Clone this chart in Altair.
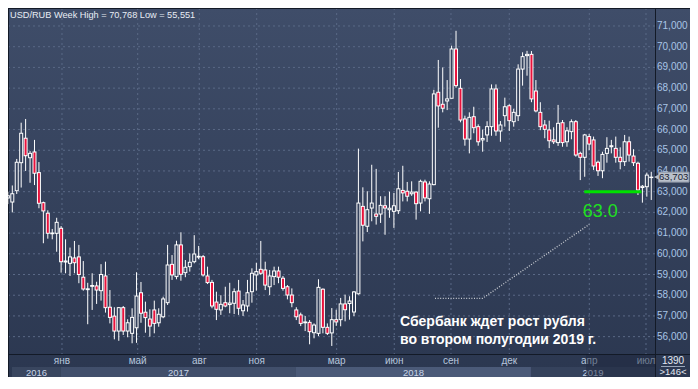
import altair as alt
import pandas as pd

# ---------------- data ----------------
opens = [62.70, 62.50, 63.05, 64.40, 65.58, 64.64, 64.92, 63.92, 62.47, 61.96,
         60.97, 60.99, 61.23, 59.60, 59.54, 59.80, 59.85, 58.87, 58.27, 58.43,
         58.45, 58.22, 58.93, 57.42, 56.99, 56.27, 57.40, 56.27, 56.16, 56.43,
         58.12, 57.18, 56.85, 57.29, 56.67, 56.96, 57.64, 59.49, 58.90, 60.43,
         59.09, 59.38, 59.62, 59.84, 59.86, 58.93, 58.62, 57.67, 57.29, 57.64,
         57.55, 57.61, 58.20, 57.25, 57.48, 58.17, 58.98, 59.25, 59.22, 58.41,
         58.90, 59.17, 58.82, 58.41, 58.01, 57.29, 57.05, 56.67, 56.69, 56.19,
         56.16, 58.29, 56.45, 56.18, 56.82, 56.82, 57.58, 57.60, 57.19, 58.07,
         62.29, 61.33, 62.21, 61.92, 61.92, 62.32, 62.13, 62.05, 62.08, 63.06,
         63.02, 62.90, 62.98, 62.45, 63.47, 62.66, 63.34, 67.80, 67.22, 67.38,
         67.51, 69.89, 67.99, 66.51, 65.54, 66.62, 66.14, 65.50, 65.74, 66.14,
         67.96, 65.93, 66.67, 67.15, 66.38, 66.67, 68.92, 69.57, 69.63, 67.86,
         66.83, 66.22, 65.98, 65.50, 65.37, 66.33, 65.41, 65.90, 66.38, 64.85,
         64.66, 65.66, 65.50, 64.42, 64.01, 64.85, 65.17, 65.09, 64.66, 64.45,
         65.41, 64.72, 64.37, 63.20, 63.24, 63.68]
highs = [63.00, 63.30, 64.58, 66.33, 66.51, 64.96, 65.50, 64.43, 62.52, 62.10,
         61.20, 61.74, 61.34, 60.70, 60.30, 60.62, 60.43, 59.65, 58.60, 59.06,
         58.65, 59.50, 59.62, 58.25, 57.42, 57.42, 57.48, 56.84, 57.37, 59.11,
         58.64, 57.69, 57.32, 57.74, 57.37, 57.93, 60.43, 59.94, 60.63, 61.04,
         59.70, 60.02, 60.90, 60.38, 59.94, 59.38, 58.74, 58.17, 58.00, 58.41,
         58.60, 58.33, 58.74, 57.77, 58.74, 59.30, 59.57, 60.62, 59.62, 59.22,
         59.38, 59.38, 58.93, 58.49, 58.33, 57.42, 57.16, 57.00, 56.80, 56.64,
         58.77, 58.33, 56.64, 57.38, 57.30, 57.87, 58.03, 57.95, 58.20, 65.08,
         63.21, 63.02, 64.30, 64.10, 62.78, 62.78, 63.00, 62.94, 63.95, 64.25,
         63.47, 63.50, 63.02, 63.58, 63.58, 63.50, 67.92, 69.36, 69.00, 68.39,
         70.05, 70.768, 68.44, 66.67, 66.83, 67.10, 66.25, 66.00, 66.40, 68.18,
         68.18, 66.41, 67.54, 67.22, 67.00, 69.15, 69.73, 69.80, 69.79, 68.39,
         67.32, 66.46, 66.43, 66.11, 67.19, 66.46, 66.11, 66.49, 66.46, 64.93,
         65.79, 65.79, 65.66, 64.50, 64.93, 65.63, 65.50, 65.66, 65.14, 65.74,
         65.66, 65.05, 64.45, 63.32, 63.92, 63.96]
lows = [62.40, 62.00, 62.89, 63.20, 64.00, 63.43, 63.32, 62.20, 60.51, 60.73,
        60.70, 60.10, 59.09, 59.06, 58.93, 59.06, 58.58, 58.22, 56.60, 57.29,
        57.58, 57.74, 57.16, 56.64, 55.87, 55.80, 56.08, 55.97, 55.68, 55.70,
        56.67, 56.19, 56.00, 56.16, 56.48, 56.89, 57.53, 58.74, 58.77, 58.70,
        58.87, 59.14, 59.54, 59.74, 58.90, 58.54, 57.37, 56.80, 57.05, 57.42,
        57.13, 57.09, 57.05, 57.00, 57.21, 57.64, 58.22, 58.98, 58.25, 58.01,
        58.49, 58.58, 58.22, 57.80, 57.42, 56.80, 56.51, 56.27, 55.63, 55.92,
        56.03, 56.16, 56.08, 55.551, 56.52, 56.50, 56.74, 56.82, 56.99, 58.03,
        60.60, 61.05, 61.57, 61.41, 61.49, 60.92, 61.74, 61.25, 61.92, 62.53,
        62.53, 62.80, 61.65, 62.05, 62.53, 61.93, 63.31, 66.09, 66.83, 66.94,
        67.51, 68.02, 66.35, 65.22, 64.85, 65.82, 65.22, 64.93, 65.40, 65.70,
        65.70, 65.41, 66.14, 65.93, 66.14, 66.41, 68.12, 68.60, 67.32, 66.83,
        65.97, 65.58, 65.10, 65.30, 65.21, 65.17, 65.17, 65.53, 64.69, 63.56,
        63.72, 65.01, 64.05, 63.76, 63.65, 64.40, 64.85, 64.40, 64.08, 64.24,
        64.45, 64.24, 62.84, 62.47, 62.76, 62.60]
closes = [62.80, 62.90, 64.42, 65.82, 64.74, 64.85, 63.89, 62.44, 62.07, 60.99,
          61.01, 61.52, 59.62, 59.65, 59.85, 59.57, 59.00, 58.30, 58.31, 58.47,
          58.25, 59.00, 57.40, 56.93, 56.27, 57.40, 56.27, 56.67, 56.93, 57.96,
          57.13, 56.92, 56.51, 56.64, 57.08, 57.82, 59.46, 58.98, 60.43, 59.01,
          59.35, 59.59, 59.99, 59.88, 58.98, 58.61, 57.48, 57.32, 57.56, 57.48,
          57.62, 58.17, 57.37, 57.53, 58.12, 59.06, 59.14, 59.06, 58.49, 58.93,
          59.17, 58.87, 58.33, 58.01, 57.64, 56.96, 56.64, 56.71, 56.24, 56.56,
          58.38, 56.45, 56.16, 56.82, 56.71, 57.58, 57.30, 57.72, 58.16, 62.45,
          61.38, 62.13, 62.45, 61.81, 62.34, 62.21, 62.20, 62.32, 63.14, 62.94,
          62.78, 62.98, 62.42, 63.50, 62.70, 63.37, 67.72, 67.14, 67.03, 67.48,
          69.89, 68.12, 66.46, 65.54, 66.59, 66.09, 65.41, 65.57, 66.14, 67.96,
          65.93, 66.22, 67.10, 66.43, 66.83, 68.92, 69.52, 69.63, 67.48, 66.90,
          66.14, 66.01, 65.46, 65.41, 66.30, 65.37, 65.94, 66.38, 64.77, 64.66,
          65.74, 65.30, 64.24, 64.01, 64.80, 65.09, 65.22, 64.66, 64.45, 65.41,
          64.77, 64.40, 63.08, 63.26, 63.80, 63.703]

price_ticks = [56, 57, 58, 59, 60, 61, 62, 63, 64, 65, 66, 67, 68, 69, 70, 71]
price_tick_labels = ["56,000", "57,000", "58,000", "59,000", "60,000", "61,000",
                     "62,000", "63,000", "64,000", "65,000", "66,000", "67,000",
                     "68,000", "69,000", "70,000", "71,000"]
month_labels = ["янв", "май", "авг", "ноя", "мар", "июн", "сен", "дек", "апр", "июл"]
month_pos = [13.20, 30.26, 44.14, 57.08, 75.10, 88.08, 100.86, 114.00, 132.03, 144.81]
year_labels = ["2016", "2017", "2018", "2019"]
year_start = [1.93, 12.97, 65.93, 118.89]
year_end = [12.97, 65.93, 118.89, 146.84]

title_text = "USD/RUB Week High = 70,768 Low = 55,551"
last_price = 63.703
last_price_label = "63,703"
bars_total = "1390"
bars_shown = ">146<"

target_level = 63.0
target_x = [130.9, 143.8]
target_label = "63.0"
target_label_pos = [130.55, 61.79]
dots_x = [97.26, 108.0, 132.03]
dots_y = [57.85, 57.85, 61.42]
note_lines = ["Сбербанк ждет рост рубля", "во втором полугодии 2019 г."]
note_x = 89.37
note_y = [56.51, 55.645]

# ---------------- styling ----------------
FONT = "Liberation Sans"
W, H = 647, 346
TOTAL_W, TOTAL_H = 682, 369
LINE = "#131a27"
GRID = "#5a6986"
PXX = 1 / 4.4375   # one pixel in index units
PXY = 1 / 20.71    # one pixel in price units

xs = alt.Scale(domain=[1.031, 146.84], nice=False, zero=False)
ys = alt.Scale(domain=[55.162, 71.869], nice=False, zero=False)


def X(f):
    return alt.X(f, type="quantitative", scale=xs, axis=None)


def Y(f):
    return alt.Y(f, type="quantitative", scale=ys, axis=None)


one = pd.DataFrame({"a": [0]})

candles = pd.DataFrame({"i": list(range(1, len(opens) + 1)), "o": opens, "h": highs,
                        "l": lows, "c": closes})
candles["dir"] = ["up" if c >= o else "down" for o, c in zip(opens, closes)]
candles["top"] = candles[["o", "c"]].max(axis=1)
candles["bot"] = candles[["o", "c"]].min(axis=1)
candles["ox0"] = candles["i"] - 2 * PXX
candles["ox1"] = candles["i"] + 2 * PXX
candles["oy0"] = candles["bot"] - 0.5 * PXY
candles["oy1"] = candles["top"] + 0.5 * PXY
candles["ix0"] = candles["i"] - 1 * PXX
candles["ix1"] = candles["i"] + 1 * PXX
candles["iy0"] = candles["bot"] + 0.5 * PXY
candles["iy1"] = candles["top"] - 0.5 * PXY
inner_up = candles[(candles["iy1"] > candles["iy0"]) & (candles["dir"] == "up")]
inner_dn = candles[(candles["iy1"] > candles["iy0"]) & (candles["dir"] == "down")]

grad = alt.LinearGradient(gradient="linear",
                          stops=[alt.GradientStop(color="#3f4d69", offset=0),
                                 alt.GradientStop(color="#2b3750", offset=1)],
                          x1=0, x2=0, y1=0, y2=1)

layers = []

# background panels
layers.append(alt.Chart(one).mark_rect(fill=grad).encode(
    x=alt.value(0), x2=alt.value(TOTAL_W), y=alt.value(0), y2=alt.value(TOTAL_H)))

years_df = pd.DataFrame({"label": year_labels, "x0": year_start, "x1": year_end,
                         "xc": [(a + b) / 2 for a, b in zip(year_start, year_end)]})
year_colors = ["#39465f", "#414f6b", "#4b5a78", "#35425c"]
for lab, a, b, col in zip(year_labels, year_start, year_end, year_colors):
    layers.append(alt.Chart(pd.DataFrame({"x0": [a], "x1": [b]})).mark_rect(fill=col).encode(
        x=X("x0"), x2="x1", y=alt.value(359), y2=alt.value(TOTAL_H)))

# grid
grid_h = pd.DataFrame({"p": price_ticks})
layers.append(alt.Chart(grid_h).mark_rule(color=GRID, strokeDash=[2, 3], strokeWidth=1).encode(
    y=Y("p"), x=alt.value(0), x2=alt.value(W)))
grid_v = pd.DataFrame({"m": month_pos})
layers.append(alt.Chart(grid_v).mark_rule(color=GRID, strokeDash=[2, 3], strokeWidth=1).encode(
    x=X("m"), y=alt.value(0), y2=alt.value(H)))


# frame lines
def hline(y, x0, x1):
    return alt.Chart(one).mark_rule(color=LINE, strokeWidth=1).encode(
        y=alt.value(y), x=alt.value(x0), x2=alt.value(x1))


def vline(x, y0, y1):
    return alt.Chart(one).mark_rule(color=LINE, strokeWidth=1).encode(
        x=alt.value(x), y=alt.value(y0), y2=alt.value(y1))


layers += [hline(0.5, 0, TOTAL_W), vline(0.5, 0, TOTAL_H), vline(W + 0.5, 0, TOTAL_H),
           hline(H + 0.5, 0, TOTAL_W)]

# candles: wick, white body outline, coloured body interior
layers.append(alt.Chart(candles).mark_rule(color="#ffffff", strokeWidth=1, clip=True).encode(
    x=X("i"), y=Y("l"), y2="h"))
layers.append(alt.Chart(candles).mark_rect(color="#ffffff", clip=True).encode(
    x=X("ox0"), x2="ox1", y=Y("oy0"), y2="oy1"))
layers.append(alt.Chart(inner_up).mark_rect(color="#35425d", clip=True).encode(
    x=X("ix0"), x2="ix1", y=Y("iy0"), y2="iy1"))
layers.append(alt.Chart(inner_dn).mark_rect(color="#e8123c", clip=True).encode(
    x=X("ix0"), x2="ix1", y=Y("iy0"), y2="iy1"))

# right axis labels
ticks_df = pd.DataFrame({"p": price_ticks, "t": price_tick_labels})
layers.append(alt.Chart(ticks_df).mark_text(align="left", baseline="middle", font=FONT,
                                             fontSize=10, color="#a9c5e6").encode(
    x=alt.value(649), y=Y("p"), text="t:N"))

# last price tag
tag = pd.DataFrame({"v": [last_price], "lo": [last_price - 5 * PXY], "hi": [last_price + 5 * PXY],
                    "t": [last_price_label]})
layers.append(alt.Chart(tag).mark_rect(fill="#b9c0cb", stroke="#8e97a6", strokeWidth=1).encode(
    x=alt.value(650.5), x2=alt.value(681), y=Y("lo"), y2="hi"))
layers.append(alt.Chart(tag).mark_point(shape="triangle-left", filled=True, size=30,
                                        color="#b9c0cb", opacity=1).encode(
    x=alt.value(648.5), y=Y("v")))
layers.append(alt.Chart(tag).mark_text(align="left", baseline="middle", font=FONT, fontSize=9.6,
                                       color="#1b2332").encode(
    x=alt.value(651), y=Y("v"), text="t:N"))

# month and year labels
months_df = pd.DataFrame({"m": month_pos, "t": month_labels})
layers.append(alt.Chart(months_df).mark_text(align="center", baseline="middle", font=FONT,
                                             fontSize=10, color="#b7c6dc").encode(
    x=X("m"), y=alt.value(353), text="t:N"))
layers.append(alt.Chart(years_df).mark_text(align="center", baseline="middle", font=FONT,
                                            fontSize=9.5, color="#c9d5e8").encode(
    x=X("xc"), y=alt.value(364.5), text="label:N"))

# dim overlay of the scroll region
layers.append(alt.Chart(one).mark_rect(fill="#1c253b", opacity=0.45).encode(
    x=alt.value(578), x2=alt.value(W), y=alt.value(H + 1), y2=alt.value(TOTAL_H)))

# bottom-right counter
layers.append(alt.Chart(pd.DataFrame({"t": [bars_total]})).mark_text(
    align="center", baseline="middle", font=FONT, fontSize=10, color="#e4e9f1").encode(
    x=alt.value(665), y=alt.value(352.5), text="t:N"))
layers.append(alt.Chart(one).mark_rule(color="#9aa6b8", strokeWidth=1).encode(
    y=alt.value(358.5), x=alt.value(653), x2=alt.value(677)))
layers.append(alt.Chart(pd.DataFrame({"t": [bars_shown]})).mark_text(
    align="center", baseline="middle", font=FONT, fontSize=9.5, color="#e4e9f1").encode(
    x=alt.value(665), y=alt.value(364), text="t:N"))

# title
layers.append(alt.Chart(pd.DataFrame({"t": [title_text]})).mark_text(
    align="left", baseline="middle", font=FONT, fontSize=9.2, color="#e8edf5").encode(
    x=alt.value(2), y=alt.value(7), text="t:N"))

# annotations
layers.append(alt.Chart(pd.DataFrame({"x0": [target_x[0]], "x1": [target_x[1]],
                                      "y": [target_level]})).mark_rule(
    color="#00e000", strokeWidth=3).encode(x=X("x0"), x2="x1", y=Y("y")))
layers.append(alt.Chart(pd.DataFrame({"x": [target_label_pos[0]], "y": [target_label_pos[1]],
                                      "t": [target_label]})).mark_text(
    align="left", baseline="alphabetic", font=FONT, fontSize=18, color="#1fe01f").encode(
    x=X("x"), y=Y("y"), text="t:N"))
dots = pd.DataFrame({"x": dots_x, "y": dots_y, "k": list(range(len(dots_x)))})
layers.append(alt.Chart(dots).mark_line(color="#c8ccd2", strokeDash=[1, 1.6], strokeWidth=1.3).encode(
    x=X("x"), y=Y("y"), order="k:Q"))
notes = pd.DataFrame({"x": [note_x, note_x], "y": note_y, "t": note_lines})
layers.append(alt.Chart(notes).mark_text(align="left", baseline="alphabetic", font=FONT,
                                         fontSize=14, fontWeight="bold", color="#ffffff").encode(
    x=X("x"), y=Y("y"), text="t:N"))

chart = alt.layer(*layers).properties(
    width=W, height=H,
    autosize=alt.AutoSizeParams(type="none"),
    padding={"left": 0, "top": 0, "right": TOTAL_W - W, "bottom": TOTAL_H - H},
    background="#2b3750",
).configure_view(stroke=None)

chart.save("out.html", embed_options={"renderer": "svg", "actions": False})
